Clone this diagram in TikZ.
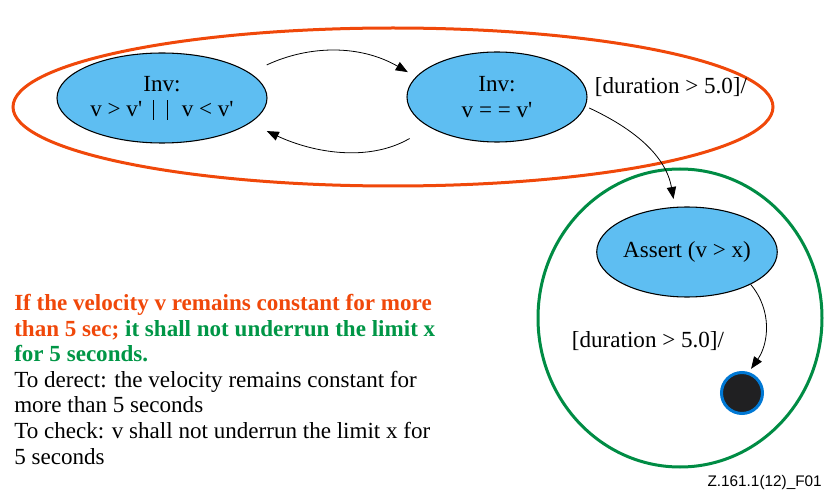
\documentclass[tikz,border=0pt]{standalone}
\usepackage{fontspec}
\setmainfont{Liberation Serif}
\newfontfamily\idfont{Liberation Sans}
\usetikzlibrary{shapes.geometric,arrows.meta}
\definecolor{stateblue}{RGB}{94,190,242}
\definecolor{regionorange}{RGB}{240,72,10}
\definecolor{regiongreen}{RGB}{0,140,68}
\definecolor{textgreen}{RGB}{0,150,70}
\definecolor{finalblue}{RGB}{0,120,212}
\definecolor{finalfill}{RGB}{32,32,34}
\newcommand{\orbar}{\rule[-0.13em]{0.6pt}{0.87em}}
\begin{document}
\begin{tikzpicture}[x=0.75pt,y=0.75pt,
    statenode/.style={ellipse,draw=black,line width=0.8pt,fill=stateblue,inner sep=0pt,
      minimum height=67.5pt,align=center,font=\fontsize{17.3}{19.2}\selectfont},
    finalnode/.style={circle,draw=finalblue,line width=2.25pt,fill=finalfill,
      minimum size=30.75pt,inner sep=0pt},
    trans/.style={line width=0.6pt,-{Triangle[length=9pt,width=7pt]}},
    guard/.style={font=\fontsize{17.3}{19.2}\selectfont,inner sep=0pt}]
  \useasboundingbox (0,0) rectangle (826,490);
  % regions
  \draw[regionorange,line width=2.25pt] (393,383) ellipse [x radius=380,y radius=79];
  \draw[regiongreen,line width=2.25pt] (680,172) ellipse [x radius=142,y radius=149];
  % states
  \node[statenode,minimum width=157.5pt] (changing) at (162,392)
    {Inv:\\ v > v\textquotesingle\hspace{0.45em}\orbar\hspace{0.6em}\orbar\hspace{0.6em}v < v\textquotesingle};
  \node[statenode,minimum width=135pt] (steady) at (497,393) {Inv:\\ v = = v\textquotesingle};
  \node[statenode,minimum width=135pt] (assert) at (687,238) {Assert (v > x)};
  \node[finalnode] (final) at (742,97) {};
  % transitions
  \draw[trans,shorten <=14pt,shorten >=7pt] (changing.16) to[out=25,in=150] (steady.166);
  \draw[trans,shorten <=17pt,shorten >=14pt] (steady.204) to[out=210,in=-25] (changing.-16);
  \draw[trans,shorten <=3pt,shorten >=6pt] (steady.-6) to[out=-25,in=100] (assert.105);
  \draw[trans,shorten >=3pt] (assert.-27) to[out=-50,in=55] (final.72);
  \node[guard] (exitguard) at (671,403) {[duration > 5.0]/};
  \node[guard] (finalguard) at (648,149) {[duration > 5.0]/};
  % text
  \node[anchor=north west,inner sep=0pt,align=left,font=\fontsize{17.3}{19.2}\selectfont] (property) at (14,196)
    {\textbf{\color{regionorange}If the velocity v remains constant for more}\\
     \textbf{\color{regionorange}than 5 sec; \color{textgreen}it shall not underrun the limit x}\\
     \textbf{\color{textgreen}for 5 seconds.}\\
     To derect: the velocity remains constant for\\
     more than 5 seconds\\
     To check: v shall not underrun the limit x for\\
     5 seconds};
  \node[anchor=base east,inner sep=0pt,font=\idfont\fontsize{11.5}{13}\selectfont] (figid) at (822,4) {Z.161.1(12)\_F01};
\end{tikzpicture}
\end{document}
